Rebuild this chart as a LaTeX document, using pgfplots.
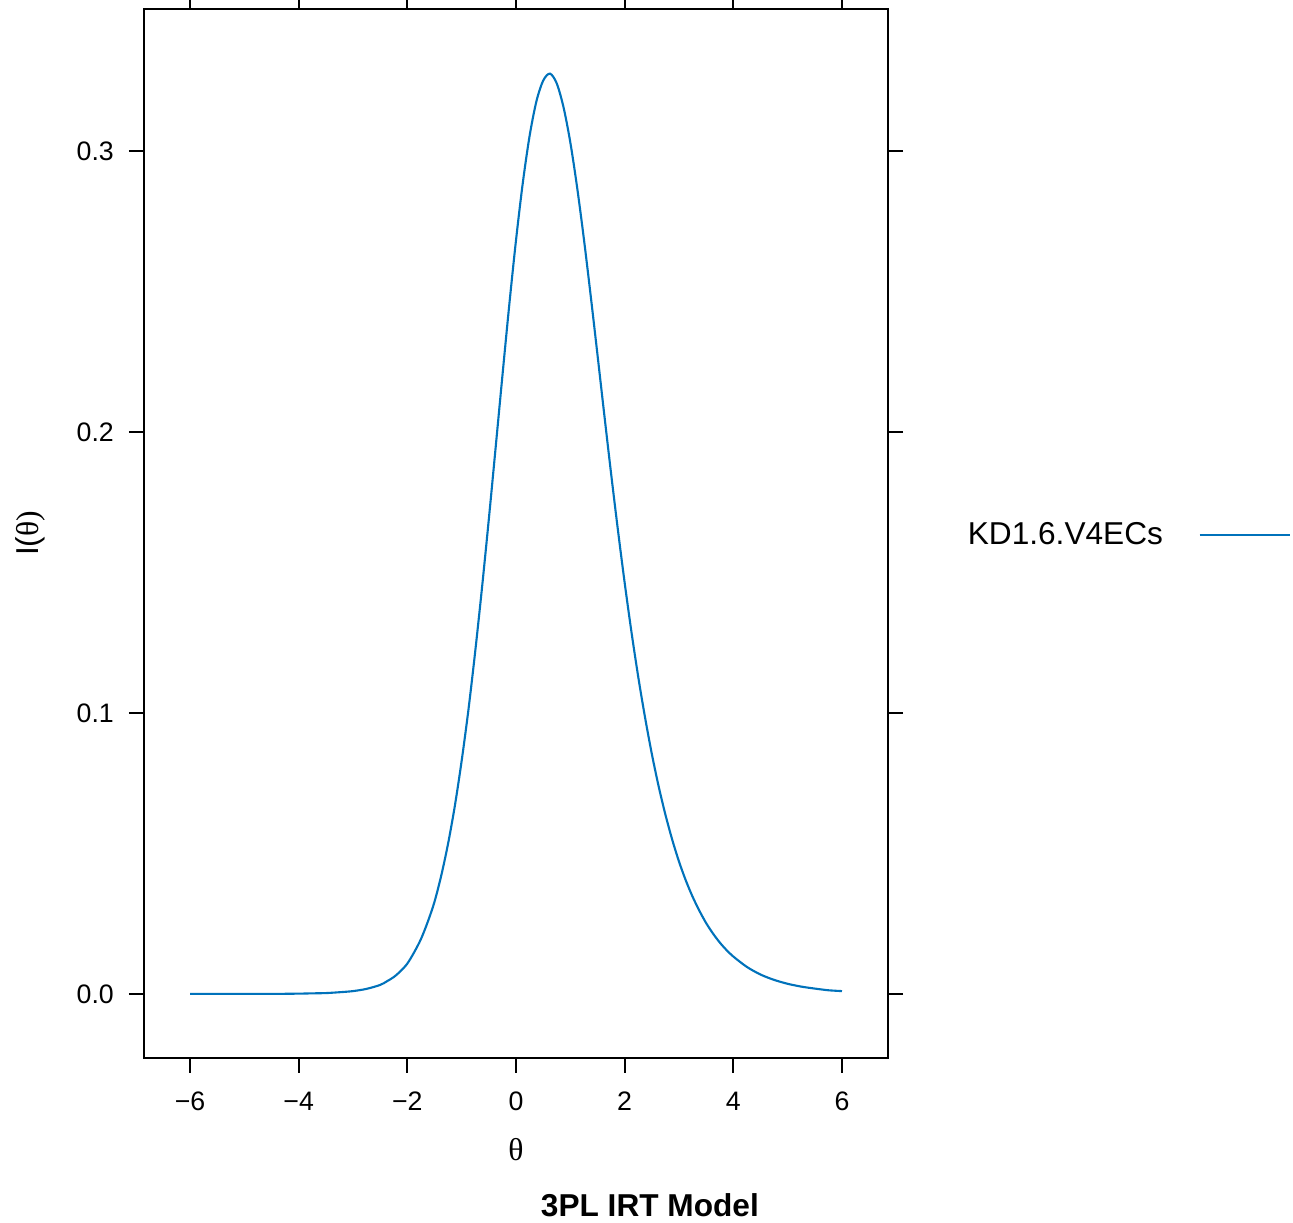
\documentclass[border=0pt]{standalone}
\usepackage{fontspec}
\setmainfont{Liberation Sans}
\newfontfamily\greekserif{Liberation Serif}
\usepackage{pgfplots}
\pgfplotsset{compat=1.18}
\definecolor{curveblue}{RGB}{0,114,187}

\begin{document}
\begin{tikzpicture}
\begin{axis}[
    name=main,
    scale only axis,
    width=14.88cm, height=20.98cm,
    xmin=-6.847, xmax=6.847,
    ymin=-0.0228, ymax=0.3505,
    xtick={-6,-4,-2,0,2,4,6},
    xticklabels={−6,−4,−2,0,2,4,6},
    ytick={0,0.1,0.2,0.3},
    yticklabels={0.0,0.1,0.2,0.3},
    xticklabel pos=left, yticklabel pos=left,
    xtick pos=both, ytick pos=both,
    tick align=outside,
    major tick length=0.3cm,
    tick style={line width=1.1pt, black},
    axis line style={line width=1.1pt},
    ticklabel style={font=\fontsize{15.2}{17}\selectfont},
    xticklabel style={yshift=-0.25cm},
    yticklabel style={xshift=-0.18cm},
    xlabel={\greekserif θ},
    ylabel={I(\greekserif θ)},
    label style={font=\fontsize{18}{20}\selectfont},
    xlabel style={at={(axis description cs:0.5,-0.0877)}, anchor=center},
    ylabel style={at={(axis description cs:-0.1532,0.5)}, anchor=center},
    legend plot pos=right,
    legend style={draw=none, fill=none, at={(axis description cs:1.1021,0.4986)},
        anchor=west, inner sep=0pt, font=\fontsize{18}{20}\selectfont},
    legend image code/.code={\path (0cm,0cm); \draw[#1] (0.64cm,0cm) -- (2.44cm,0cm);},
    clip=false,
]
% item information curve, 3PL item KD1.6.V4ECs
\addplot[curveblue, line width=1.2pt, smooth] coordinates {
    (-6,0.0000) (-5.5,0.0000) (-5,0.0000) (-4.5,0.0000) (-4,0.0001)
    (-3.75,0.0002) (-3.5,0.0003) (-3.25,0.0006) (-3,0.0010) (-2.75,0.0018)
    (-2.5,0.0032) (-2.375,0.0045) (-2.25,0.0060) (-2.125,0.0081) (-2,0.0108)
    (-1.875,0.0148) (-1.75,0.0195) (-1.625,0.0256) (-1.5,0.0328) (-1.375,0.0422)
    (-1.25,0.0535) (-1.125,0.0670) (-1,0.0830) (-0.875,0.1012) (-0.75,0.1220)
    (-0.625,0.1447) (-0.5,0.1690) (-0.375,0.1944) (-0.25,0.2200) (-0.125,0.2450)
    (0,0.2682) (0.125,0.2886) (0.25,0.3053) (0.375,0.3176) (0.5,0.3250)
    (0.625,0.3275) (0.75,0.3240) (0.875,0.3155) (1,0.3030) (1.125,0.2870)
    (1.25,0.2686) (1.375,0.2484) (1.5,0.2274) (1.625,0.2061) (1.75,0.1852)
    (1.875,0.1652) (2,0.1463) (2.125,0.1288) (2.25,0.1128) (2.375,0.0984)
    (2.5,0.0854) (2.625,0.0739) (2.75,0.0638) (2.875,0.0549) (3,0.0471)
    (3.125,0.0404) (3.25,0.0346) (3.375,0.0296) (3.5,0.0252) (3.625,0.0215)
    (3.75,0.0183) (3.875,0.0156) (4,0.0133) (4.25,0.0096) (4.5,0.0069)
    (4.75,0.0050) (5,0.0036) (5.25,0.0026) (5.5,0.0019) (5.75,0.0013)
    (6,0.0010)
};
\addlegendentry{KD1.6.V4ECs}
\node[font=\bfseries\fontsize{18}{20}\selectfont] at (axis description cs:0.680,-0.1401) {3PL IRT Model};
\end{axis}
\pgfresetboundingbox
\path ([xshift=-2.88cm,yshift=-3.30cm]main.south west) rectangle ++(25.86cm,24.46cm);
\end{tikzpicture}
\end{document}
